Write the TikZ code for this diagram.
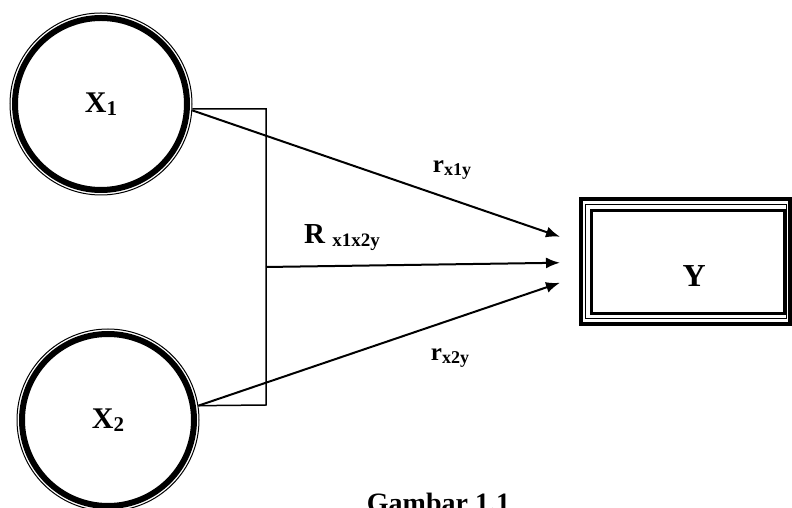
\documentclass[tikz,border=0pt]{standalone}
\usepackage{fontspec}
\setmainfont{Liberation Serif}
\usepackage{tikz}
\usetikzlibrary{arrows.meta,positioning,calc}
\newcommand{\ix}[3][3pt]{\raisebox{-#1}{\fontsize{#2}{#2}\selectfont #3}}
\tikzset{
  varnode/.style={circle, draw, line width=1pt, minimum size=182pt, inner sep=0pt,
                  font=\bfseries\fontsize{30}{32}\selectfont},
  ring/.style={line width=6pt},
  outbox/.style={rectangle, draw, line width=4pt, minimum width=208.5pt,
                 minimum height=124.5pt, inner sep=0pt},
  kurung/.style={line width=1.5pt},
  arr/.style={-{Latex[length=14pt,width=11pt]}, line width=2pt},
  coef/.style={font=\bfseries\fontsize{25}{28}\selectfont, inner sep=0pt},
}

\begin{document}
\begin{tikzpicture}[x=1pt,y=1pt]
   \useasboundingbox (0,0) rectangle (792,508);
   \node[varnode] (x1) at (101,404) {X\ix{21}{1}};
   \node[varnode] (x2) at (108,88) {X\ix{21}{2}};
   \draw[ring] (x1.center) circle (86);
   \draw[ring] (x2.center) circle (86);
   \node[outbox, label={[font=\bfseries\fontsize{32}{34}\selectfont, xshift=9pt, yshift=-14pt]center:Y}] (y) at (685.25,246.25) {};
   \draw[line width=1pt] ($(y.center)+(-99.5,57)$) rectangle ($(y.center)+(101.5,-57)$);
   \draw[line width=3pt] ($(y.center)+(-93.75,51.25)$) rectangle ($(y.center)+(99.25,-52.25)$);
   % kurung
   \coordinate (kb) at (266,103);
   \coordinate (jn) at (266,241);
   \draw[kurung] (x1.-3) -| (kb) -- (x2.9.5);
   \draw[arr] (x1.-4) -- ([xshift=-19pt,yshift=25pt]y.west);
   \draw[arr] (jn) -- ([xshift=-19pt,yshift=-1pt]y.west);
   \draw[arr] (x2.9.5) -- ([xshift=-19pt,yshift=-21pt]y.west);
   \node[coef] (r1) at (452,338) {r\ix{18}{x1y}};
   \node[coef, font=\bfseries\fontsize{29}{31}\selectfont] (rr) at (342,270) {R \ix{19}{x1x2y}};
   \node[coef] (r2) at (450,150) {r\ix{18}{x2y}};
   \node[font=\bfseries\fontsize{28}{30}\selectfont, anchor=base] (cap) at (438.5,-5) {Gambar 1.1};
\end{tikzpicture}
\end{document}
